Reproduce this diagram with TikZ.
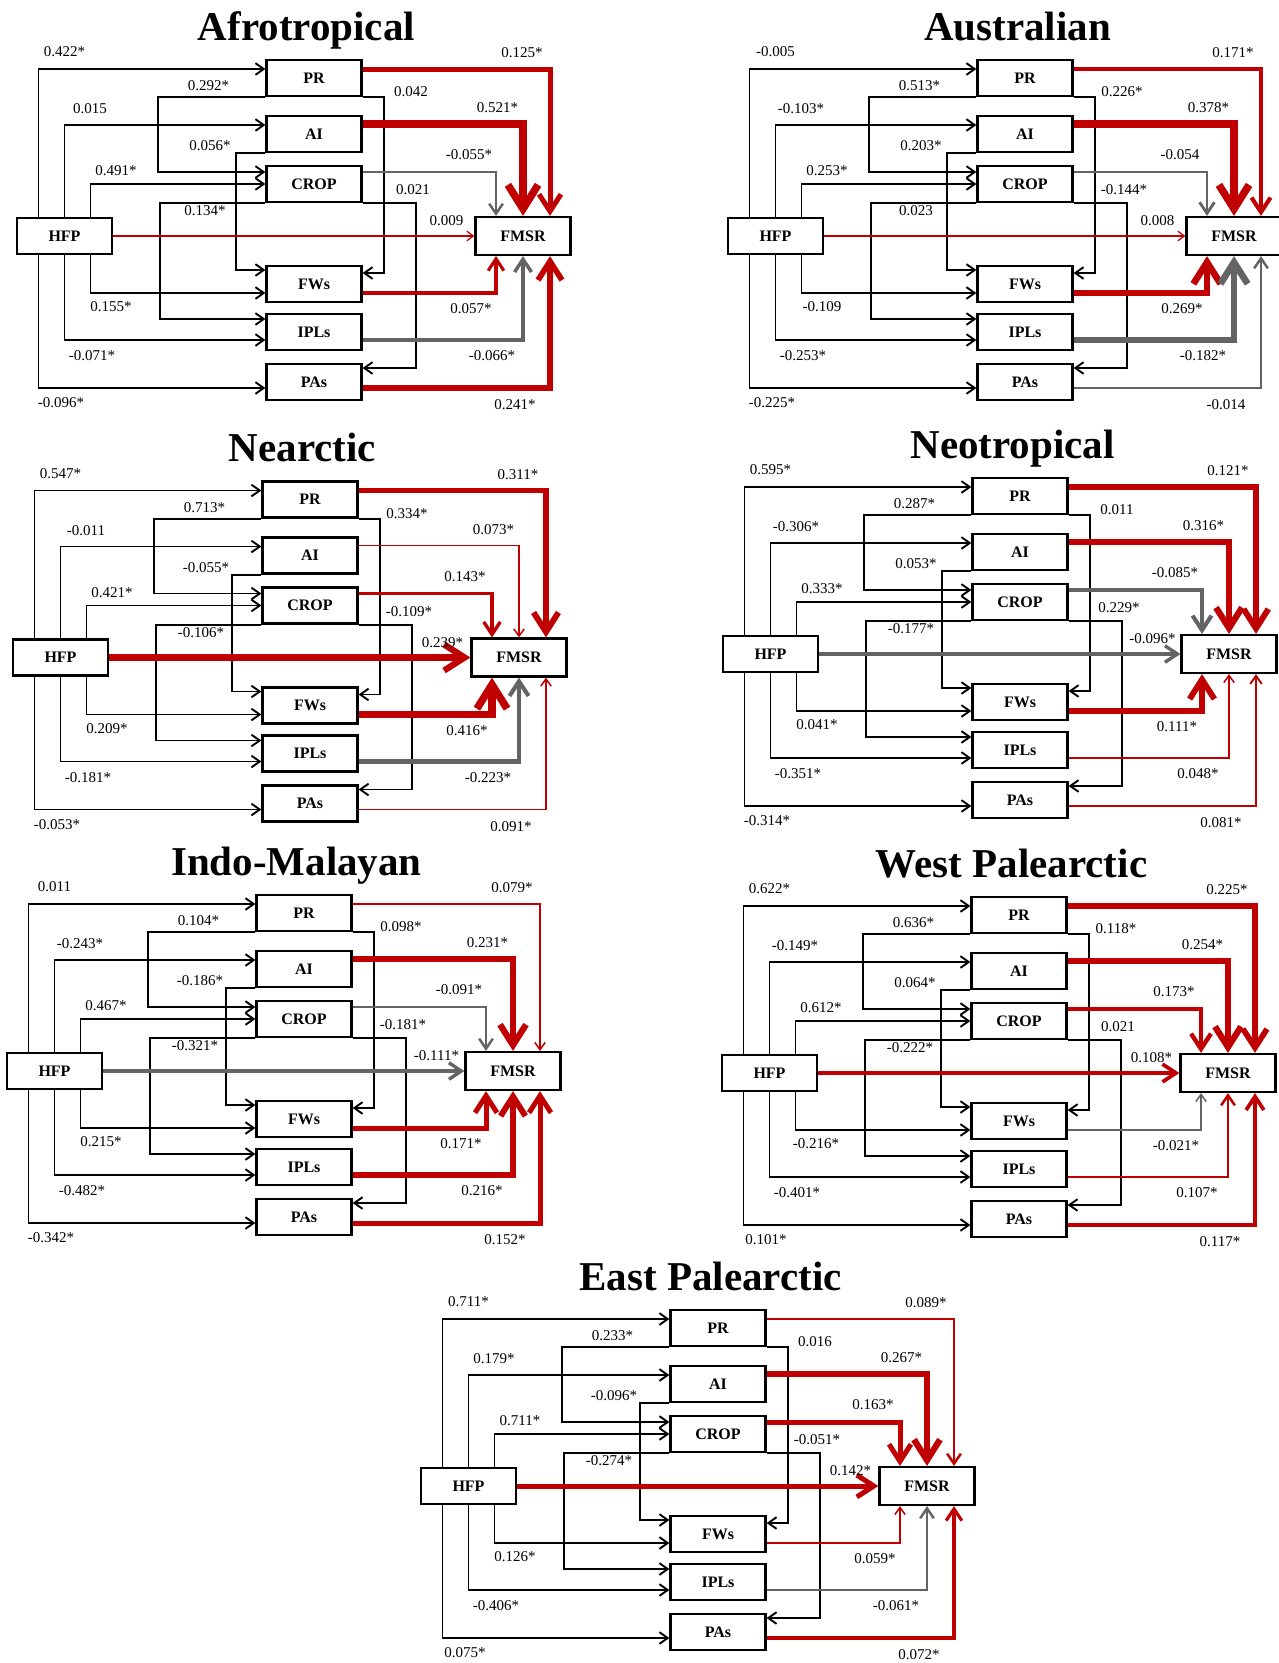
\documentclass[tikz,border=0pt]{standalone}
\usepackage{fontspec}
\setmainfont{Liberation Serif}
\usetikzlibrary{arrows.meta,calc}
\definecolor{fmred}{RGB}{192,0,0}
\definecolor{fmgray}{RGB}{100,100,100}

% title and the eight boxes of one region, HFP at the origin
\newcommand{\regionnodes}[1]{%
  \node[title] (ttl) at (242,196) {#1};
  \node[box] (hfp) at (0,0) {HFP};
  \node[box] (pr) at (249.5,158) {PR};
  \node[box] (ai) at (249.5,102) {AI};
  \node[box] (crop) at (249.5,52) {CROP};
  \node[box] (fws) at (249.5,-48) {FWs};
  \node[box] (ipls) at (249.5,-96) {IPLs};
  \node[box] (pas) at (249.5,-146) {PAs};
  \node[box, minimum height=38pt] (fmsr) at (458.5,0) {FMSR};
}
% HFP -> PR, AI, CROP, FWs, IPLs, PAs
\newcommand{\hfplinks}[6]{%
  \draw[blk] ($(hfp.north)+(-26,0)$) |- ($(pr.west)+(0,9)$);
  \draw[blk] (hfp.north) |- ($(ai.west)+(0,9)$);
  \draw[blk] ($(hfp.north)+(26,0)$) |- (crop.west);
  \draw[blk] ($(hfp.south)+(26,0)$) |- ($(fws.west)+(0,-9)$);
  \draw[blk] (hfp.south) |- ($(ipls.west)+(0,-8)$);
  \draw[blk] ($(hfp.south)+(-26,0)$) |- ($(pas.west)+(0,-6)$);
  \node[lab] (l-hpr) at (0,184) {#1};
  \node[lab] (l-hai) at (25.5,127) {#2};
  \node[lab] (l-hcrop) at (51.5,65) {#3};
  \node[lab] (l-hfws) at (46.5,-71) {#4};
  \node[lab] (l-hipls) at (27.5,-120) {#5};
  \node[lab] (l-hpas) at (-3.5,-167) {#6};
}
% PR -> CROP, PR -> FWs, AI -> FWs, CROP -> IPLs, CROP -> PAs
\newcommand{\crosslinks}[5]{%
  \draw[blk] (pr.south west) -- ++(-107.5,0) |- ($(crop.west)+(0,12)$);
  \draw[blk] (pr.south east) -- ++(21.5,0) |- ($(fws.east)+(0,11)$);
  \draw[blk] (ai.south west) -- ++(-29.5,0) |- ($(fws.west)+(0,14)$);
  \draw[blk] (crop.south west) -- ++(-105.5,0) |- ($(ipls.west)+(0,13)$);
  \draw[blk] (crop.south east) -- ++(53,0) |- ($(pas.east)+(0,14)$);
  \node[lab] (l-prcrop) at (144,150) {#1};
  \node[lab] (l-prfws) at (346.5,144) {#2};
  \node[lab] (l-aifws) at (145.5,90) {#3};
  \node[lab] (l-cropipls) at (140.5,25) {#4};
  \node[lab] (l-croppas) at (348.5,46) {#5};
}
% PR, AI, CROP -> FMSR (style, label)
\newcommand{\fmsrtop}[6]{%
  \draw[#1] ($(pr.east)+(0,9)$) -| ($(fmsr.north)+(27,0)$);
  \draw[#3] ($(ai.east)+(0,10)$) -| (fmsr.north);
  \draw[#5] ($(crop.east)+(0,12)$) -| ($(fmsr.north)+(-27,0)$);
  \node[lab] (l-prf) at (457.5,183) {#2};
  \node[lab] (l-aif) at (433,128) {#4};
  \node[lab] (l-cropf) at (404.5,81) {#6};
}
% HFP, FWs, IPLs, PAs -> FMSR (style, label)
\newcommand{\fmsrbottom}[8]{%
  \draw[#1] (hfp.east) -- (fmsr.west);
  \draw[#3] ($(fws.east)+(0,-9)$) -| ($(fmsr.south)+(-27,0)$);
  \draw[#5] ($(ipls.east)+(0,-8)$) -| (fmsr.south);
  \draw[#7] ($(pas.east)+(0,-6)$) -| ($(fmsr.south)+(27,0)$);
  \node[lab] (l-hfpf) at (382,15) {#2};
  \node[lab] (l-fwsf) at (406.5,-73) {#4};
  \node[lab] (l-iplsf) at (427.5,-120) {#6};
  \node[lab] (l-pasf) at (450.5,-169) {#8};
}

\begin{document}
\begin{tikzpicture}[x=1pt, y=1pt,
  title/.style={anchor=base, inner sep=0pt, font=\fontsize{41}{41}\selectfont\bfseries},
  box/.style={draw, line width=2.2pt, minimum width=95pt, minimum height=36pt,
    inner sep=0pt, font=\fontsize{16}{16}\selectfont\bfseries},
  lab/.style={inner sep=0pt, font=\fontsize{15}{15}\selectfont},
  arr/.style={-{Straight Barb[length=3pt 2.8, width=5.4pt 3.3]}},
  blk/.style={arr, line width=1.9pt, black},
  posline/.style={arr, draw=fmred},
  negline/.style={arr, draw=fmgray},
  lw/.style={line width=1.25*#1pt}]

\useasboundingbox (0,0) rectangle (1279,-1663);

\begin{scope}[shift={(64.5,-236)}, name prefix=af-]
  \regionnodes{Afrotropical}
  \hfplinks{0.422*}{0.015}{0.491*}{0.155*}{-0.071*}{-0.096*}
  \crosslinks{0.292*}{0.042}{0.056*}{0.134*}{0.021}
  \fmsrtop{posline,lw=4}{0.125*}{posline,lw=6}{0.521*}{negline,lw=2}{-0.055*}
  \fmsrbottom{posline,lw=1}{0.009}{posline,lw=2.5}{0.057*}{negline,lw=2.8}{-0.066*}{posline,lw=4.5}{0.241*}
\end{scope}

\begin{scope}[shift={(775.5,-236)}, name prefix=au-]
  \regionnodes{Australian}
  \hfplinks{-0.005}{-0.103*}{0.253*}{-0.109}{-0.253*}{-0.225*}
  \crosslinks{0.513*}{0.226*}{0.203*}{0.023}{-0.144*}
  \fmsrtop{posline,lw=3.3}{0.171*}{posline,lw=6}{0.378*}{negline,lw=2.3}{-0.054}
  \fmsrbottom{posline,lw=1}{0.008}{posline,lw=5.3}{0.269*}{negline,lw=5.3}{-0.182*}{negline,lw=2}{-0.014}
\end{scope}

\begin{scope}[shift={(60.5,-657.5)}, name prefix=na-]
  \regionnodes{Nearctic}
  \hfplinks{0.547*}{-0.011}{0.421*}{0.209*}{-0.181*}{-0.053*}
  \crosslinks{0.713*}{0.334*}{-0.055*}{-0.106*}{-0.109*}
  \fmsrtop{posline,lw=4.7}{0.311*}{posline,lw=1.2}{0.073*}{posline,lw=2.7}{0.143*}
  \fmsrbottom{posline,lw=5}{0.239*}{posline,lw=6}{0.416*}{negline,lw=3.3}{-0.223*}{posline,lw=1.2}{0.091*}
\end{scope}

\begin{scope}[shift={(770.5,-654)}, name prefix=nt-]
  \regionnodes{Neotropical}
  \hfplinks{0.595*}{-0.306*}{0.333*}{0.041*}{-0.351*}{-0.314*}
  \crosslinks{0.287*}{0.011}{0.053*}{-0.177*}{0.229*}
  \fmsrtop{posline,lw=4.7}{0.121*}{posline,lw=5}{0.316*}{negline,lw=3.3}{-0.085*}
  \fmsrbottom{negline,lw=2.7}{-0.096*}{posline,lw=4.7}{0.111*}{posline,lw=1.2}{0.048*}{posline,lw=1.5}{0.081*}
\end{scope}

\begin{scope}[shift={(54.5,-1071)}, name prefix=im-]
  \regionnodes{Indo-Malayan}
  \hfplinks{0.011}{-0.243*}{0.467*}{0.215*}{-0.482*}{-0.342*}
  \crosslinks{0.104*}{0.098*}{-0.186*}{-0.321*}{-0.181*}
  \fmsrtop{posline,lw=1.2}{0.079*}{posline,lw=5}{0.231*}{negline,lw=2}{-0.091*}
  \fmsrbottom{negline,lw=2.7}{-0.111*}{posline,lw=4}{0.171*}{posline,lw=4.7}{0.216*}{posline,lw=4}{0.152*}
\end{scope}

\begin{scope}[shift={(769.5,-1073)}, name prefix=wp-]
  \regionnodes{West Palearctic}
  \hfplinks{0.622*}{-0.149*}{0.612*}{-0.216*}{-0.401*}{0.101*}
  \crosslinks{0.636*}{0.118*}{0.064*}{-0.222*}{0.021}
  \fmsrtop{posline,lw=4.5}{0.225*}{posline,lw=5}{0.254*}{posline,lw=3.5}{0.173*}
  \fmsrbottom{posline,lw=3}{0.108*}{negline,lw=1.2}{-0.021*}{posline,lw=2}{0.107*}{posline,lw=3}{0.117*}
\end{scope}

\begin{scope}[shift={(468.5,-1486)}, name prefix=ep-]
  \regionnodes{East Palearctic}
  \hfplinks{0.711*}{0.179*}{0.711*}{0.126*}{-0.406*}{0.075*}
  \crosslinks{0.233*}{0.016}{-0.096*}{-0.274*}{-0.051*}
  \fmsrtop{posline,lw=2}{0.089*}{posline,lw=5}{0.267*}{posline,lw=4}{0.163*}
  \fmsrbottom{posline,lw=4}{0.142*}{posline,lw=1.2}{0.059*}{negline,lw=2}{-0.061*}{posline,lw=2.5}{0.072*}
\end{scope}
\end{tikzpicture}
\end{document}
